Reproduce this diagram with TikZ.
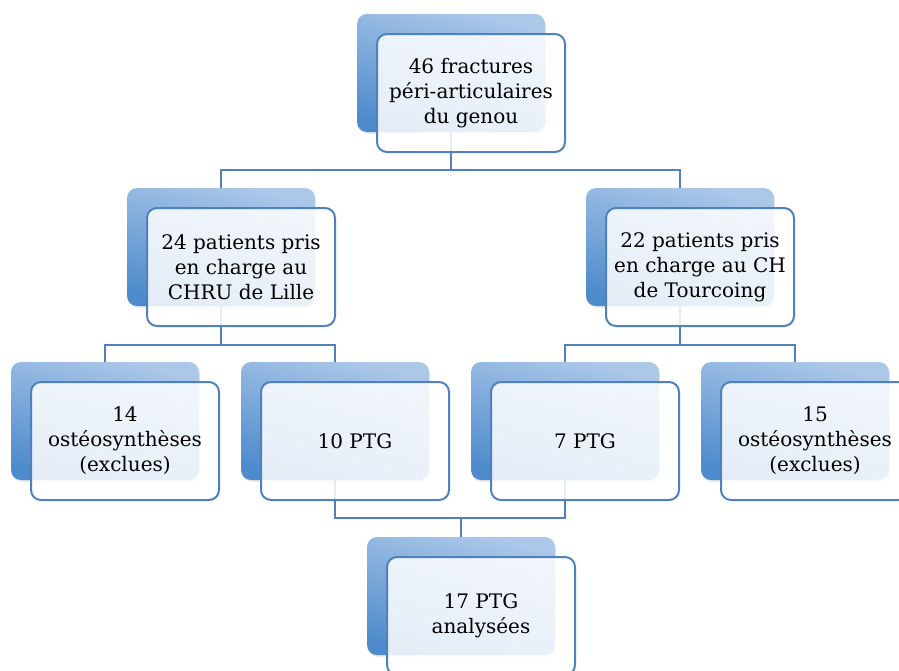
\documentclass[tikz,border=0pt]{standalone}
\usepackage{fontspec}
\setmainfont{DejaVu Serif}
\usepackage{tikz}
\usetikzlibrary{positioning,calc,backgrounds,shadows}

\definecolor{bordure}{RGB}{79,129,189}
\definecolor{bleuclair}{RGB}{172,200,233}
\definecolor{bleufonce}{RGB}{78,139,204}

\tikzset{
    fond/.style={minimum width=188pt, minimum height=118pt, inner sep=0pt,
        rounded corners=10pt, top color=bleuclair, bottom color=bleufonce,
        shading angle=-15,
        drop shadow={opacity=0.18, shadow xshift=1pt, shadow yshift=-2pt}},
    cadre/.style={minimum width=188pt, minimum height=118pt, inner sep=0pt,
        rounded corners=10pt, draw=bordure, line width=2pt,
        fill=white, fill opacity=0.85, text opacity=1, align=center,
        font=\fontsize{20}{25}\selectfont},
    lien/.style={draw=bordure, line width=2pt}
}

\begin{document}
\begin{tikzpicture}[x=1pt, y=-1pt]
    \useasboundingbox (0,0) rectangle (899,670);

    % boites : fond degrade puis cadre blanc decale
    \foreach \nom/\pos/\txt in {
        haut/{451,73}/{46 fractures\\péri-articulaires\\du genou},
        lille/{221,247}/{24 patients pris\\en charge au\\CHRU de Lille},
        tourc/{680,247}/{22 patients pris\\en charge au CH\\de Tourcoing},
        ostl/{105,421}/{14\\ostéosynthèses\\(exclues)},
        ptgl/{335,421}/{10 PTG},
        ptgt/{565,421}/{7 PTG},
        ostt/{795,421}/{15\\ostéosynthèses\\(exclues)},
        final/{461,596}/{17 PTG\\analysées}} {
        \node[fond] (\nom-b) at (\pos) {};
        \node[cadre] (\nom) at ($(\nom-b)+(20,20)$) {\txt};
    }

    % liens
    \begin{scope}[on background layer]
        \draw[lien] (haut-b.south) -- ++(0,38) -| (lille-b.north);
        \draw[lien] (haut-b.south) -- ++(0,38) -| (tourc-b.north);
        \draw[lien] (lille-b.south) -- ++(0,39) -| (ostl-b.north);
        \draw[lien] (lille-b.south) -- ++(0,39) -| (ptgl-b.north);
        \draw[lien] (tourc-b.south) -- ++(0,39) -| (ptgt-b.north);
        \draw[lien] (tourc-b.south) -- ++(0,39) -| (ostt-b.north);
        \draw[lien] (ptgl-b.south) -- ++(0,38) -| (final-b.north);
        \draw[lien] (ptgt-b.south) -- ++(0,38) -| (final-b.north);
    \end{scope}
\end{tikzpicture}
\end{document}
